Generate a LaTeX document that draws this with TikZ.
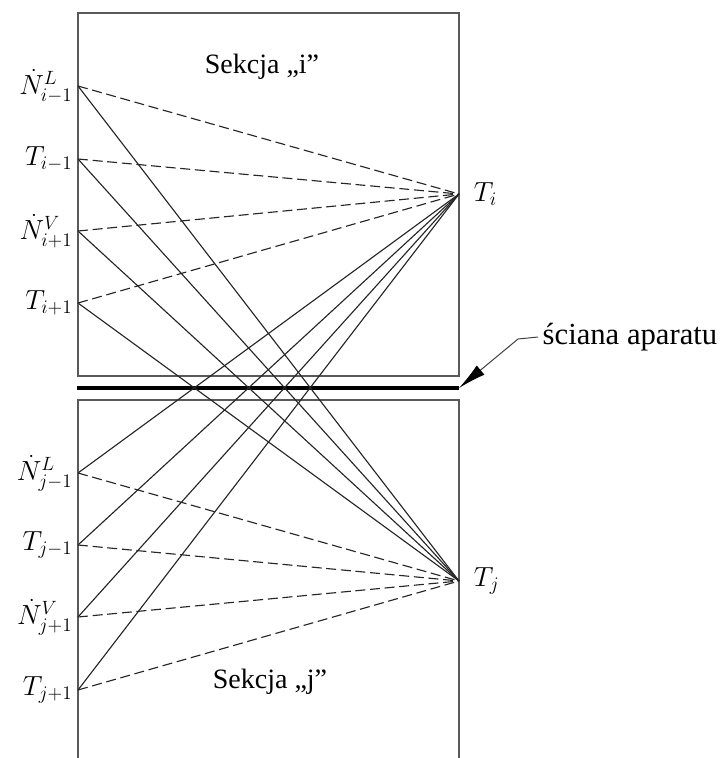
\documentclass[tikz,border=0pt]{standalone}
\usepackage{fontspec}
\setmainfont{Liberation Serif}
\usetikzlibrary{arrows.meta, positioning}

\begin{document}
\begin{tikzpicture}[x=0.75pt, y=-0.75pt, >=Stealth, font=\rmfamily\fontsize{21}{24}\selectfont]
    \tikzset{
        wire/.style={draw=black!85, line width=0.85pt},
        feed/.style={wire, dash pattern=on 7.5pt off 3.5pt},
        section/.style={draw=black!65, line width=1pt},
        lab/.style={font=\fontsize{22}{26}\selectfont, inner sep=1pt},
    }
    \useasboundingbox (0,0) rectangle (728,758);

    % sections and wall
    \draw[section] (78,376) rectangle (459,13);
    \draw[section] (78,758) |- (459,400) -- (459,758);
    \draw[line width=2.4pt] (77,388) -- (459,388) coordinate (wall);

    \node (seci) at (262,67) {Sekcja „i”};
    \node (secj) at (270,682) {Sekcja „j”};

    % section temperatures
    \coordinate (ti) at (459,194);
    \coordinate (tj) at (459,581);
    \node[lab, right=10pt of ti] (tilab) {$T_i$};
    \node[lab, right=10pt of tj] (tjlab) {$T_j$};

    % inputs of section i
    \foreach \y/\n/\txt in {86/a1/{\dot N^L_{i-1}}, 159/a2/{T_{i-1}}, 231/a3/{\dot N^V_{i+1}}, 303/a4/{T_{i+1}}} {
        \coordinate (\n) at (78,\y);
        \node[lab, left=3pt of \n] (\n lab) {$\txt$};
        \draw[feed] (\n) -- (ti);
        \draw[wire] (\n) -- (tj);
    }

    % inputs of section j
    \foreach \y/\n/\txt in {473/b1/{\dot N^L_{j-1}}, 545/b2/{T_{j-1}}, 617/b3/{\dot N^V_{j+1}}, 690/b4/{T_{j+1}}} {
        \coordinate (\n) at (78,\y);
        \node[lab, left=3pt of \n] (\n lab) {$\txt$};
        \draw[feed] (\n) -- (tj);
        \draw[wire] (\n) -- (ti);
    }

    % wall label
    \node[anchor=west, font=\rmfamily\fontsize{23}{26}\selectfont] (walllab) at (538,337) {ściana aparatu};
    \coordinate (bend) at (518,339);
    \draw[black!75, line width=0.75pt, {Latex[length=21pt, width=9pt, black]}-] (wall) -- (bend) -- (walllab.west);
\end{tikzpicture}
\end{document}
